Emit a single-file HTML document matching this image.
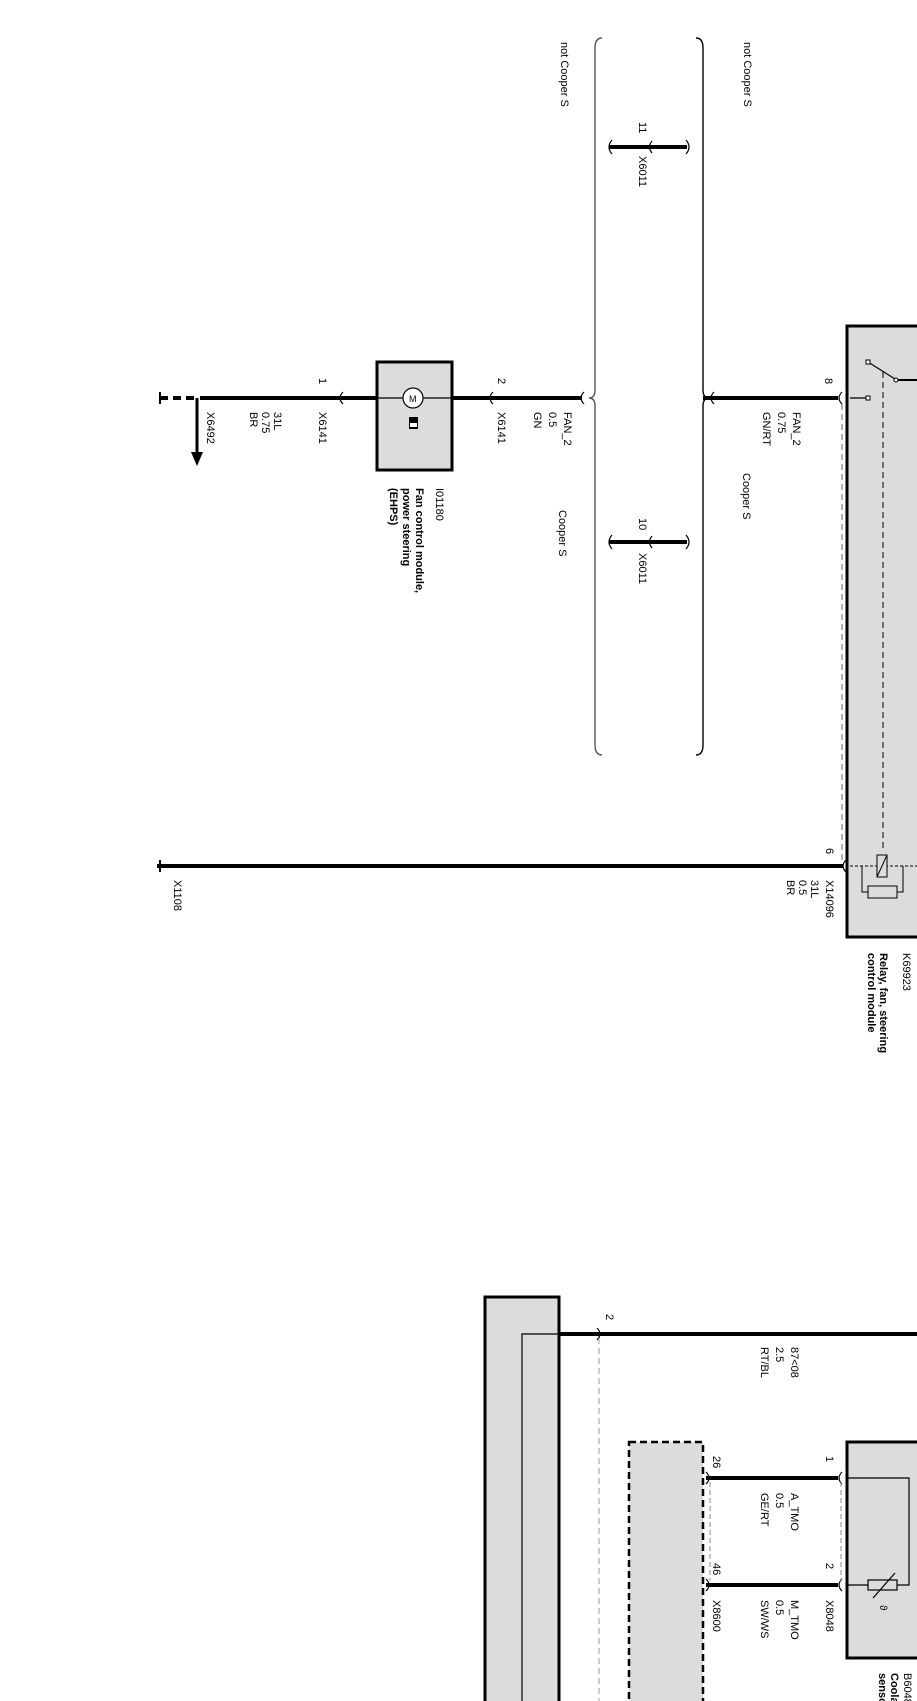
<!DOCTYPE html>
<html><head><meta charset="utf-8"><style>
html,body{margin:0;padding:0;background:#fff}
svg{display:block}
text{font-family:"Liberation Sans",Arial,sans-serif;font-size:11px;fill:#000}
</style></head><body>
<svg width="917" height="1701" viewBox="0 0 917 1701" xmlns="http://www.w3.org/2000/svg">
<!-- Relay K69923 box -->
<rect x="847" y="326" width="80" height="611" fill="#dcdcdc" stroke="#000" stroke-width="3"/>
<!-- switch -->
<line x1="850" y1="398" x2="868" y2="398" stroke="#000" stroke-width="1.2"/>
<rect x="866" y="396" width="4" height="4" fill="#fff" stroke="#000" stroke-width="1"/>
<line x1="868" y1="362" x2="895" y2="379" stroke="#000" stroke-width="1.2"/>
<rect x="866" y="360" width="4" height="4" fill="#fff" stroke="#000" stroke-width="1"/>
<circle cx="896" cy="380" r="2" fill="#fff" stroke="#000"/>
<line x1="898" y1="380" x2="917" y2="380" stroke="#000" stroke-width="2"/>
<line x1="883" y1="372" x2="883" y2="852" stroke="#000" stroke-width="1" stroke-dasharray="6,4"/>
<!-- coil -->
<line x1="850" y1="866" x2="917" y2="866" stroke="#000" stroke-width="1" stroke-dasharray="3,2"/>
<rect x="877" y="855" width="10" height="22" fill="#dcdcdc" stroke="#000" stroke-width="1"/>
<line x1="877" y1="877" x2="887" y2="855" stroke="#000" stroke-width="1"/>
<polyline points="862,866 862,892 903,892 903,866" fill="none" stroke="#000" stroke-width="1"/>
<rect x="868" y="886" width="29" height="12" fill="#dcdcdc" stroke="#000" stroke-width="1"/>
<!-- gray dashed near box -->
<line x1="842" y1="404" x2="842" y2="860" stroke="#999" stroke-width="1.5" stroke-dasharray="6,4"/>

<!-- Pin 8 wire -->
<line x1="703" y1="398" x2="838" y2="398" stroke="#000" stroke-width="4"/>
<path d="M842,392 Q836,398 842,404 M714,392 Q708,398 714,404" fill="none" stroke="#000" stroke-width="1.2"/>
<!-- brace lines -->
<path d="M602,38 Q595,38 595,48 L595,390 Q595,398 589,398 Q595,398 595,406 L595,745 Q595,755 602,755" fill="none" stroke="#555" stroke-width="1.4"/>
<path d="M696,38 Q703,38 703,48 L703,390 Q703,398 709,398 Q703,398 703,406 L703,745 Q703,755 696,755" fill="none" stroke="#000" stroke-width="1.4"/>
<!-- FAN_2 wire to module -->
<line x1="452" y1="398" x2="582" y2="398" stroke="#000" stroke-width="4"/>
<path d="M584,392 Q578,398 584,404 M493,392 Q487,398 493,404" fill="none" stroke="#000" stroke-width="1.2"/>
<!-- connectors X6011 -->
<line x1="609" y1="147" x2="687" y2="147" stroke="#000" stroke-width="4"/>
<path d="M612,140 Q606,147 612,154 M686,140 Q692,147 686,154 M652,141 Q647,147 652,153" fill="none" stroke="#000" stroke-width="1.2"/>
<line x1="609" y1="542" x2="687" y2="542" stroke="#000" stroke-width="4"/>
<path d="M612,535 Q606,542 612,549 M686,535 Q692,542 686,549 M652,536 Q647,542 652,548" fill="none" stroke="#000" stroke-width="1.2"/>
<!-- module I01180 -->
<rect x="377" y="362" width="75" height="108" fill="#dcdcdc" stroke="#000" stroke-width="3"/>
<line x1="377" y1="398" x2="452" y2="398" stroke="#000" stroke-width="1.2"/>
<circle cx="413" cy="398" r="10" fill="#fff" stroke="#000" stroke-width="1.2"/>
<text x="409" y="402" style="font-size:9px">M</text>
<rect x="409" y="417" width="9" height="12" fill="#000"/>
<rect x="410" y="423" width="7" height="4" fill="#fff"/>
<!-- ground wire -->
<line x1="200" y1="398" x2="377" y2="398" stroke="#000" stroke-width="4"/>
<line x1="160" y1="398" x2="197" y2="398" stroke="#000" stroke-width="4" stroke-dasharray="8,5"/>
<path d="M160,392 L160,404" stroke="#000" stroke-width="2"/>
<path d="M343,392 Q337,398 343,404" fill="none" stroke="#000" stroke-width="1.2"/>
<line x1="197" y1="398" x2="197" y2="455" stroke="#000" stroke-width="3"/>
<polygon points="191,452 203,452 197,466" fill="#000"/>
<!-- Pin 6 wire -->
<line x1="157" y1="866" x2="843" y2="866" stroke="#000" stroke-width="4"/>
<path d="M160,860 L160,872" stroke="#000" stroke-width="2"/>
<path d="M846,860 Q840,866 846,872" fill="none" stroke="#000" stroke-width="1.2"/>

<!-- bottom -->
<rect x="485" y="1297" width="74" height="420" fill="#dcdcdc" stroke="#000" stroke-width="3"/>
<polyline points="522,1720 522,1334 559,1334" fill="none" stroke="#000" stroke-width="1.2"/>
<line x1="559" y1="1334" x2="917" y2="1334" stroke="#000" stroke-width="4"/>
<path d="M597,1328 Q603,1334 597,1340" fill="none" stroke="#000" stroke-width="1.2"/>
<line x1="599" y1="1338" x2="599" y2="1701" stroke="#aaa" stroke-width="1.2" stroke-dasharray="6,4"/>
<rect x="629" y="1442" width="74" height="280" fill="#dcdcdc" stroke="#000" stroke-width="2.5" stroke-dasharray="7,4"/>
<rect x="847" y="1442" width="80" height="216" fill="#dcdcdc" stroke="#000" stroke-width="3"/>
<line x1="706" y1="1478" x2="838" y2="1478" stroke="#000" stroke-width="4"/>
<line x1="706" y1="1585" x2="838" y2="1585" stroke="#000" stroke-width="4"/>
<path d="M706,1472 Q712,1478 706,1484 M706,1579 Q712,1585 706,1591 M842,1472 Q836,1478 842,1484 M842,1579 Q836,1585 842,1591" fill="none" stroke="#000" stroke-width="1.2"/>
<line x1="710" y1="1482" x2="710" y2="1581" stroke="#888" stroke-width="1" stroke-dasharray="5,3"/>
<line x1="841" y1="1482" x2="841" y2="1581" stroke="#888" stroke-width="1" stroke-dasharray="5,3"/>
<polyline points="847,1478 909,1478 909,1585 897,1585" fill="none" stroke="#000" stroke-width="1.2"/>
<line x1="847" y1="1585" x2="868" y2="1585" stroke="#000" stroke-width="1.2"/>
<rect x="868" y="1580" width="29" height="10" fill="#dcdcdc" stroke="#000" stroke-width="1.2"/>
<line x1="873" y1="1598" x2="895" y2="1573" stroke="#000" stroke-width="1.2"/>
<text x="0" y="0" transform="translate(880,1605) rotate(90)" style="font-size:10px">ϑ</text>

<!-- TEXT (rotated 90deg) -->
<g>
<text transform="translate(561,42) rotate(90)">not Cooper S</text>
<text transform="translate(744,42) rotate(90)">not Cooper S</text>
<text transform="translate(639,122) rotate(90)">11</text>
<text transform="translate(639,156) rotate(90)">X6011</text>
<text transform="translate(639,518) rotate(90)">10</text>
<text transform="translate(639,553) rotate(90)">X6011</text>
<text transform="translate(825,378) rotate(90)">8</text>
<text transform="translate(793,412) rotate(90)">FAN_2</text>
<text transform="translate(778,412) rotate(90)">0.75</text>
<text transform="translate(763,412) rotate(90)">GN/RT</text>
<text transform="translate(743,473) rotate(90)">Cooper S</text>
<text transform="translate(564,412) rotate(90)">FAN_2</text>
<text transform="translate(549,412) rotate(90)">0.5</text>
<text transform="translate(534,412) rotate(90)">GN</text>
<text transform="translate(559,510) rotate(90)">Cooper S</text>
<text transform="translate(498,378) rotate(90)">2</text>
<text transform="translate(498,412) rotate(90)">X6141</text>
<text transform="translate(319,378) rotate(90)">1</text>
<text transform="translate(319,412) rotate(90)">X6141</text>
<text transform="translate(274,412) rotate(90)">31L</text>
<text transform="translate(262,412) rotate(90)">0.75</text>
<text transform="translate(250,412) rotate(90)">BR</text>
<text transform="translate(207,412) rotate(90)">X6492</text>
<text transform="translate(436,488) rotate(90)">I01180</text>
<text transform="translate(416,488) rotate(90)" font-weight="bold">Fan control module,</text>
<text transform="translate(403,488) rotate(90)" font-weight="bold">power steering</text>
<text transform="translate(390,488) rotate(90)" font-weight="bold">(EHPS)</text>
<text transform="translate(826,848) rotate(90)">6</text>
<text transform="translate(826,880) rotate(90)">X14096</text>
<text transform="translate(811,880) rotate(90)">31L</text>
<text transform="translate(799,880) rotate(90)">0.5</text>
<text transform="translate(787,880) rotate(90)">BR</text>
<text transform="translate(174,880) rotate(90)">X1108</text>
<text transform="translate(903,953) rotate(90)">K69923</text>
<text transform="translate(880,953) rotate(90)" font-weight="bold">Relay, fan, steering</text>
<text transform="translate(868,953) rotate(90)" font-weight="bold">control module</text>
<text transform="translate(606,1314) rotate(90)">2</text>
<text transform="translate(791,1347) rotate(90)">87&lt;08</text>
<text transform="translate(776,1347) rotate(90)">2.5</text>
<text transform="translate(761,1347) rotate(90)">RT/BL</text>
<text transform="translate(826,1456) rotate(90)">1</text>
<text transform="translate(826,1563) rotate(90)">2</text>
<text transform="translate(713,1456) rotate(90)">26</text>
<text transform="translate(713,1563) rotate(90)">46</text>
<text transform="translate(791,1493) rotate(90)">A_TMO</text>
<text transform="translate(776,1493) rotate(90)">0.5</text>
<text transform="translate(761,1493) rotate(90)">GE/RT</text>
<text transform="translate(791,1600) rotate(90)">M_TMO</text>
<text transform="translate(776,1600) rotate(90)">0.5</text>
<text transform="translate(761,1600) rotate(90)">SW/WS</text>
<text transform="translate(826,1600) rotate(90)">X8048</text>
<text transform="translate(713,1600) rotate(90)">X8600</text>
<text transform="translate(904,1673) rotate(90)">B6048</text>
<text transform="translate(891,1673) rotate(90)" font-weight="bold">Coolant</text>
<text transform="translate(879,1673) rotate(90)" font-weight="bold">sensor</text>
</g>
</svg>
</body></html>
